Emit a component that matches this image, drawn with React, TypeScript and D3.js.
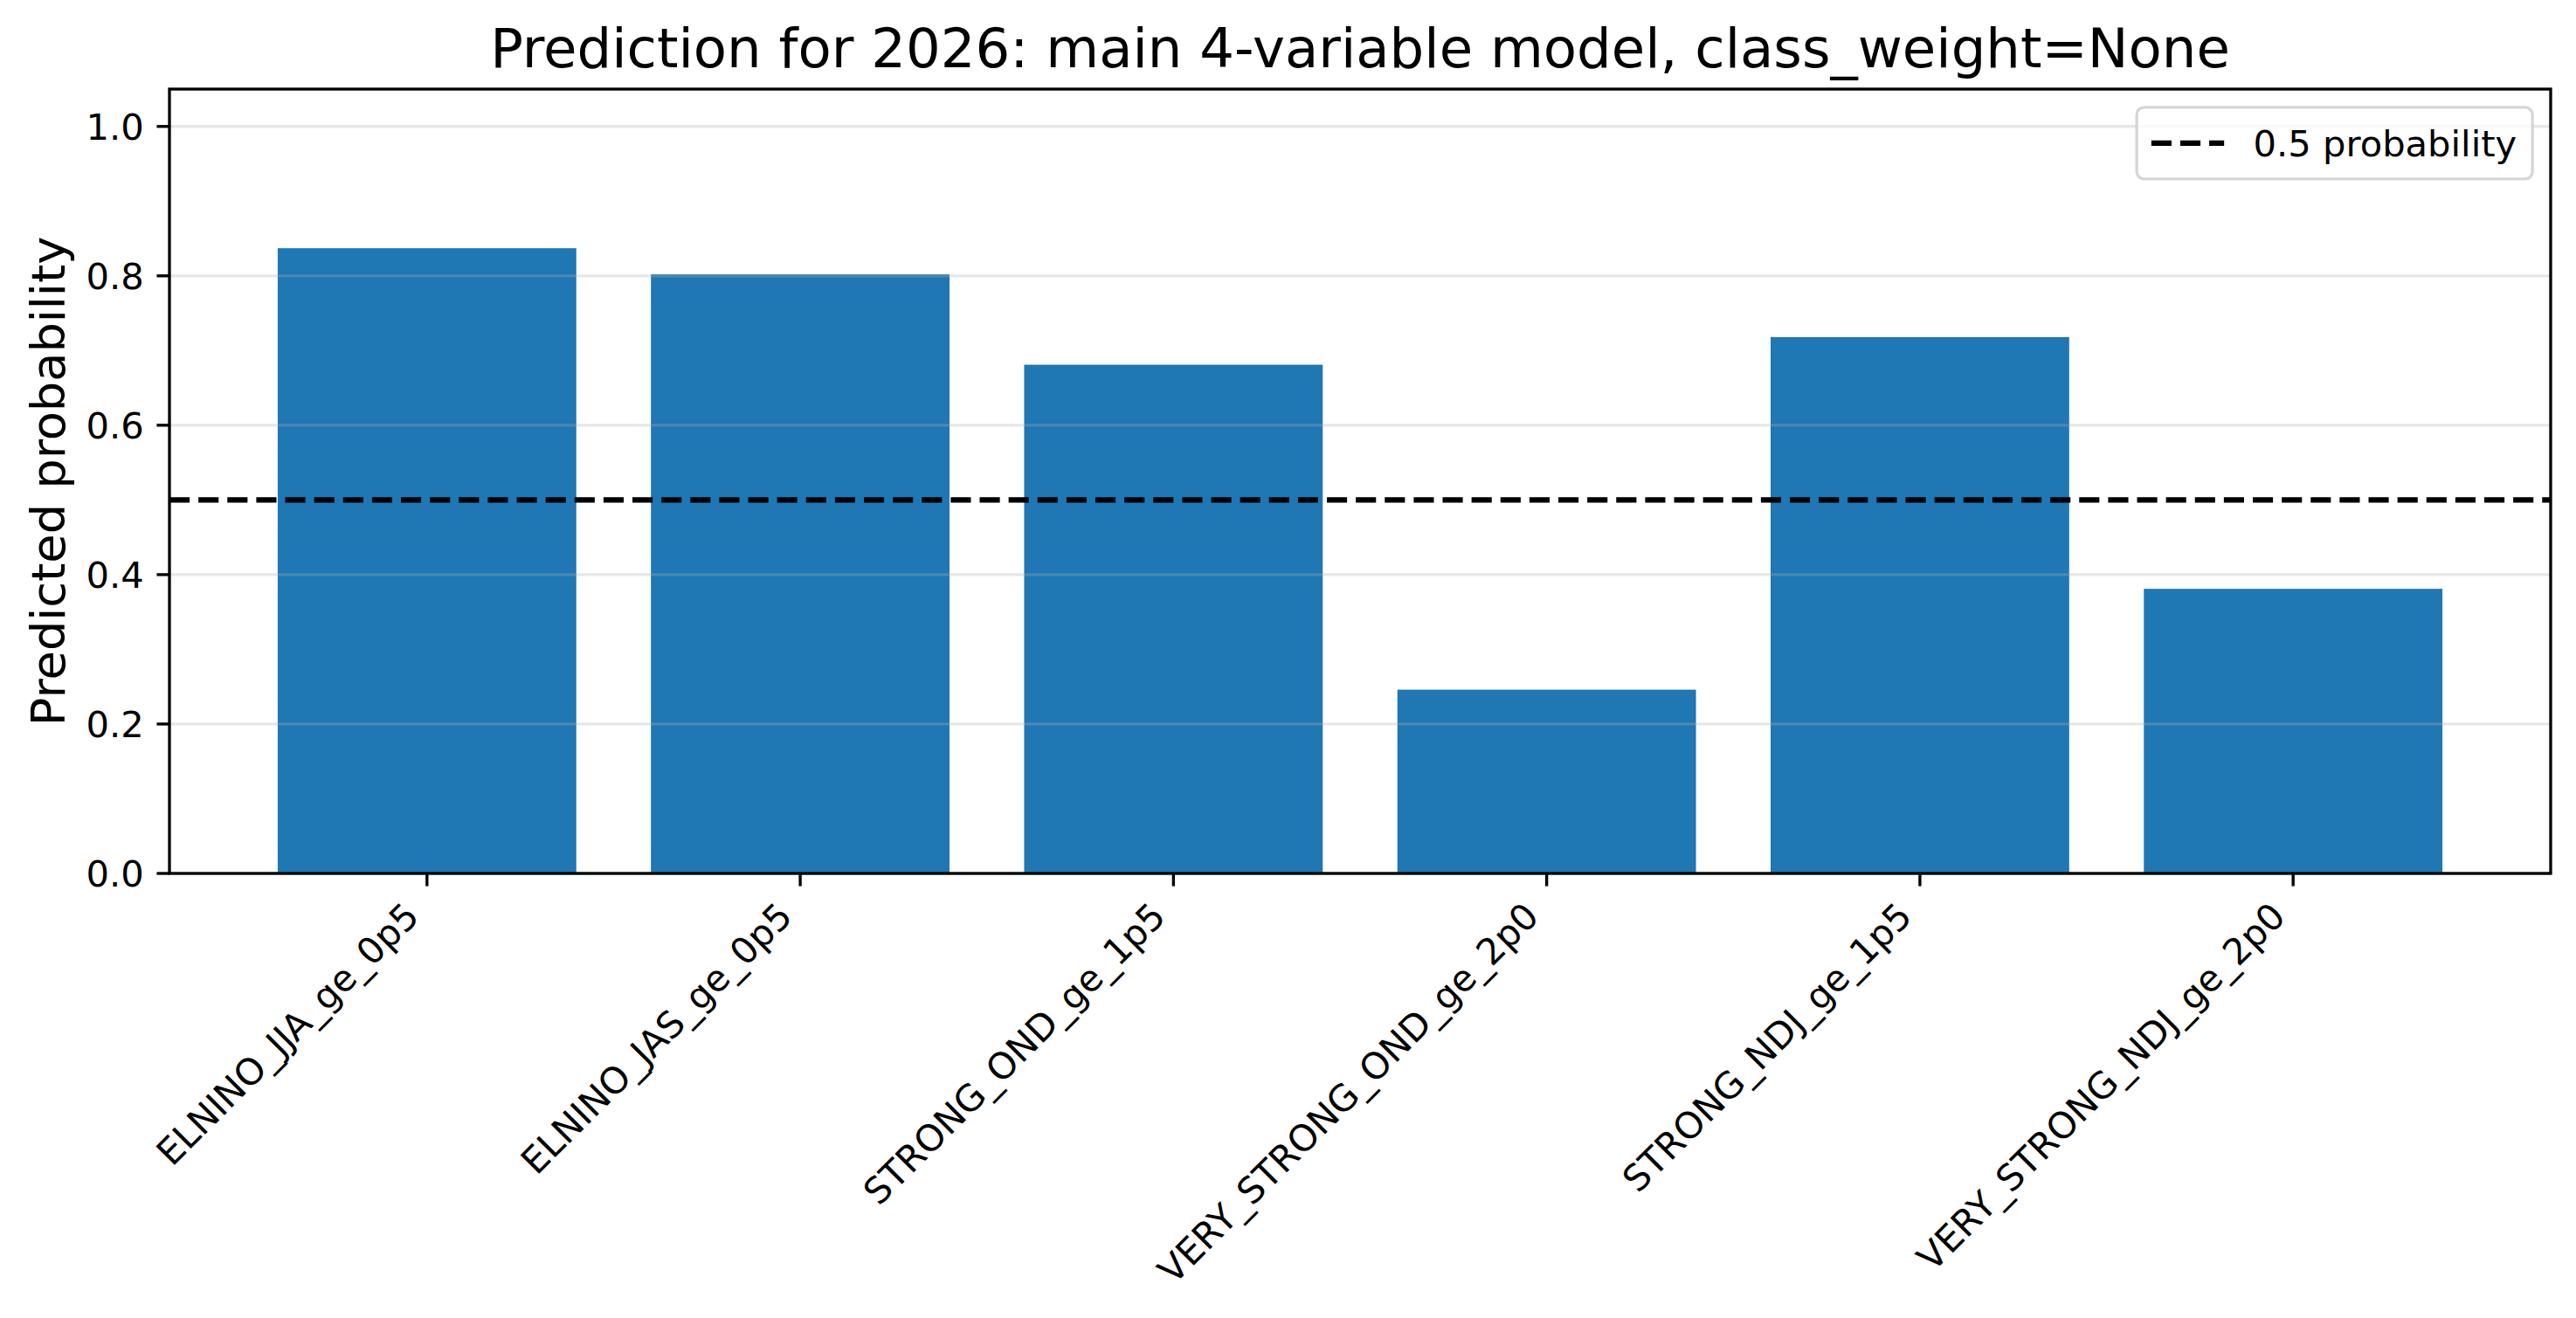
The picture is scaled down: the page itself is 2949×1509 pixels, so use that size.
import * as d3 from "d3"

// data
const categories = [
  "ELNINO_JJA_ge_0p5",
  "ELNINO_JAS_ge_0p5",
  "STRONG_OND_ge_1p5",
  "VERY_STRONG_OND_ge_2p0",
  "STRONG_NDJ_ge_1p5",
  "VERY_STRONG_NDJ_ge_2p0",
]
const probabilities = [0.837, 0.802, 0.681, 0.246, 0.718, 0.381]
const yTicks = [0, 0.2, 0.4, 0.6, 0.8, 1.0]
const threshold = 0.5
const titleText = "Prediction for 2026: main 4-variable model, class_weight=None"
const yLabelText = "Predicted probability"
const legendText = "0.5 probability"

const W = 2949
const H = 1509
const FONT = "DejaVu Sans, sans-serif"
const PT = 300 / 72

export default function App() {
  const left = 194
  const right = 2920
  const top = 102
  const bottom = 1000

  const n = categories.length
  const barW = 0.8
  const pad = (n - 1 + barW) * 0.05
  const x = d3
    .scaleLinear()
    .domain([-barW / 2 - pad, n - 1 + barW / 2 + pad])
    .range([left, right])
  const y = d3.scaleLinear().domain([0, 1.05]).range([bottom, top])

  const tickLen = 3.5 * PT
  const tickPad = 3.5 * PT
  const lw = 0.8 * PT
  const tickFont = 10 * PT
  const fmt = d3.format(".1f")

  // legend geometry (matplotlib defaults in em units)
  const em = tickFont
  const legTextW = 303
  const legW = 0.4 * em * 2 + 2 * em + 0.8 * em + legTextW
  const legH = 0.4 * em * 2 + em * 1.17
  const legRight = right - 0.5 * em
  const legTop = top + 0.5 * em
  const legLeft = legRight - legW
  const legMidY = legTop + legH / 2
  const dash = `${3.7 * 1.5 * PT} ${1.6 * 1.5 * PT}`

  return (
    <svg
      width={W}
      height={H}
      viewBox={`0 0 ${W} ${H}`}
      style={{ position: "absolute", left: 0, top: 0, background: "white" }}
      fontFamily={FONT}
    >
      <rect x={0} y={0} width={W} height={H} fill="white" />

      {/* bars */}
      {probabilities.map((v, i) => (
        <rect
          key={categories[i]}
          x={x(i - barW / 2)}
          y={y(v)}
          width={x(i + barW / 2) - x(i - barW / 2)}
          height={y(0) - y(v)}
          fill="#1f77b4"
        />
      ))}

      {/* y grid */}
      {yTicks.map((t) => (
        <line
          key={"g" + t}
          x1={left}
          x2={right}
          y1={y(t)}
          y2={y(t)}
          stroke="#b0b0b0"
          strokeOpacity={0.3}
          strokeWidth={lw}
        />
      ))}

      {/* threshold line */}
      <line
        x1={left}
        x2={right}
        y1={y(threshold)}
        y2={y(threshold)}
        stroke="black"
        strokeWidth={1.5 * PT}
        strokeDasharray={dash}
      />

      {/* spines */}
      <rect
        x={left}
        y={top}
        width={right - left}
        height={bottom - top}
        fill="none"
        stroke="black"
        strokeWidth={lw}
      />

      {/* y ticks */}
      {yTicks.map((t) => (
        <g key={"yt" + t}>
          <line x1={left - tickLen} x2={left} y1={y(t)} y2={y(t)} stroke="black" strokeWidth={lw} />
          <text
            x={left - tickLen - tickPad}
            y={y(t)}
            dy="0.36em"
            textAnchor="end"
            fontSize={tickFont}
          >
            {fmt(t)}
          </text>
        </g>
      ))}

      {/* x ticks and rotated labels */}
      {categories.map((c, i) => {
        const tx = x(i) - 0.707 * 0.23 * tickFont
        const ty = bottom + tickLen + tickPad + 0.707 * 0.76 * tickFont
        return (
          <g key={"xt" + c}>
            <line x1={x(i)} x2={x(i)} y1={bottom} y2={bottom + tickLen} stroke="black" strokeWidth={lw} />
            <text
              x={tx}
              y={ty}
              textAnchor="end"
              fontSize={tickFont}
              transform={`rotate(-45, ${tx}, ${ty})`}
            >
              {c}
            </text>
          </g>
        )
      })}

      {/* y label */}
      <text
        transform={`translate(54, ${(top + bottom) / 2}) rotate(-90)`}
        textAnchor="middle"
        dy="0.36em"
        fontSize={13 * PT}
      >
        {yLabelText}
      </text>

      {/* title */}
      <text x={(left + right) / 2} y={top - 6 * PT} textAnchor="middle" fontSize={15 * PT}>
        {titleText}
      </text>

      {/* legend */}
      <rect
        x={legLeft}
        y={legTop}
        width={legW}
        height={legH}
        rx={0.2 * em}
        fill="white"
        fillOpacity={0.8}
        stroke="#cccccc"
        strokeOpacity={0.8}
        strokeWidth={lw}
      />
      <line
        x1={legLeft + 0.4 * em}
        x2={legLeft + 0.4 * em + 2 * em}
        y1={legMidY}
        y2={legMidY}
        stroke="black"
        strokeWidth={1.5 * PT}
        strokeDasharray={dash}
      />
      <text x={legLeft + 0.4 * em + 2.8 * em} y={legMidY} dy="0.36em" fontSize={tickFont}>
        {legendText}
      </text>
    </svg>
  )
}
